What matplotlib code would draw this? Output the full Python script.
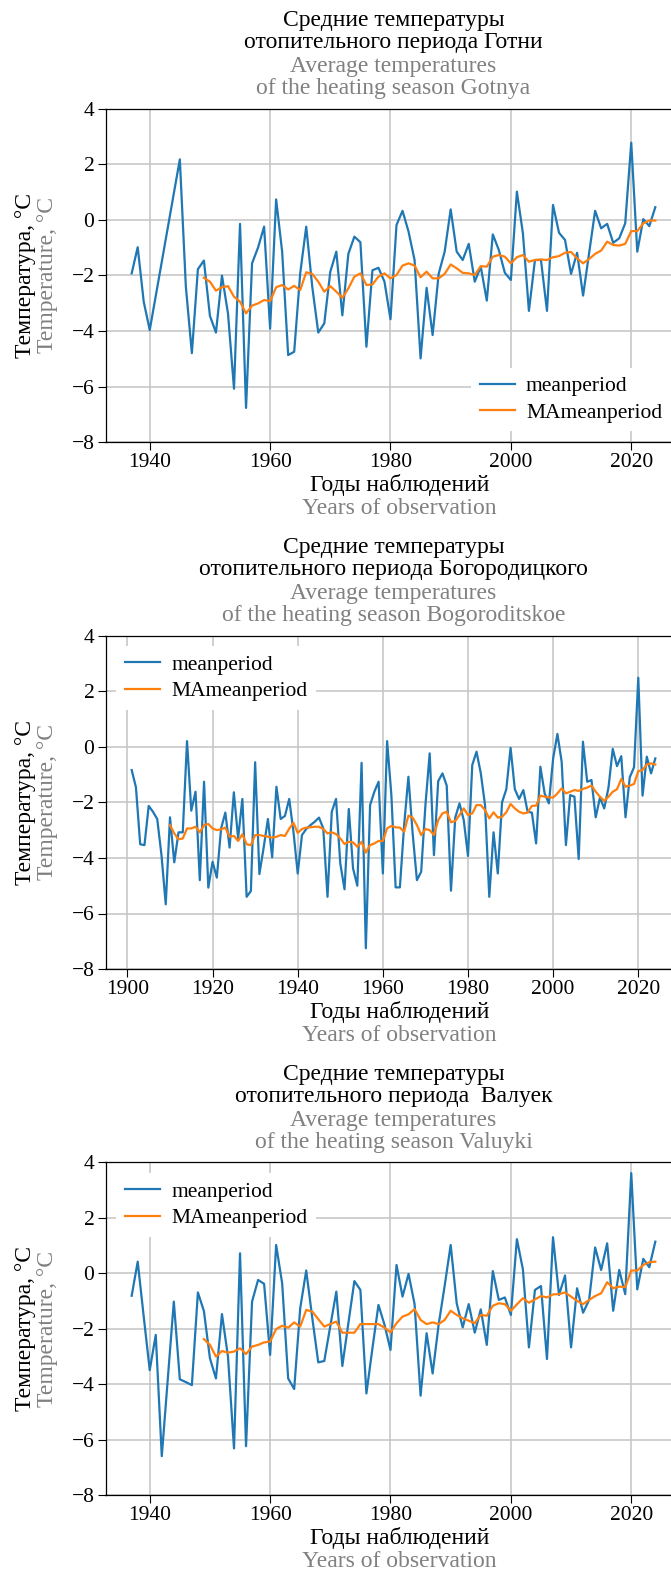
import matplotlib
matplotlib.use("Agg")
import matplotlib.pyplot as plt

plt.rcParams['font.family'] = ['Liberation Serif', 'DejaVu Serif']
plt.rcParams['font.size'] = 15.5

# --- Готня / Gotnya ---
gotnya_years = [1937, 1938, 1939, 1940] + list(range(1945, 2025))
gotnya_mean = [
    -1.93, -0.99, -2.95, -3.97,
    2.17, -2.41, -4.80, -1.78, -1.47, -3.46, -4.06, -2.01, -3.37, -6.08,
    -0.15, -6.77, -1.57, -1.00, -0.25, -3.92, 0.73, -1.15, -4.87, -4.75,
    -1.93, -0.25, -2.41, -4.06, -3.73, -1.87, -1.15, -3.44, -1.23, -0.61,
    -0.81, -4.57, -1.82, -1.73, -2.23, -3.58, -0.19, 0.32, -0.43, -1.45,
    -4.99, -2.45, -4.15, -1.95, -1.15, 0.37, -1.15, -1.45, -0.87, -2.23,
    -1.69, -2.91, -0.53, -1.09, -1.91, -2.17, 1.01, -0.49, -3.28, -1.45,
    -1.45, -3.28, 0.53, -0.47, -0.73, -1.95, -1.19, -2.73, -1.20, 0.32,
    -0.31, -0.15, -0.83, -0.67, -0.13, 2.77, -1.15, 0.02, -0.23, 0.45,
]
gotnya_ma_years = list(range(1949, 2025))
gotnya_ma = [
    -2.09, -2.23, -2.55, -2.43, -2.39, -2.77, -2.95, -3.37, -3.09, -3.01,
    -2.89, -2.93, -2.43, -2.35, -2.51, -2.38, -2.53, -1.89, -1.95, -2.23,
    -2.59, -2.39, -2.59, -2.81, -2.47, -2.05, -1.93, -2.35, -2.33, -2.05,
    -1.93, -2.11, -1.99, -1.65, -1.57, -1.65, -2.07, -1.87, -2.11, -2.11,
    -1.95, -1.61, -1.75, -1.91, -1.93, -1.99, -1.67, -1.69, -1.33, -1.27,
    -1.33, -1.57, -1.35, -1.27, -1.51, -1.45, -1.43, -1.45, -1.35, -1.31,
    -1.19, -1.16, -1.39, -1.57, -1.41, -1.23, -1.11, -0.79, -0.91, -0.93,
    -0.87, -0.41, -0.41, -0.13, -0.03, -0.03,
]

# --- Богородицкое / Bogoroditskoe ---
bogor_years = list(range(1901, 2025))
bogor_mean = [
    -0.84, -1.46, -3.51, -3.54, -2.13, -2.34, -2.60, -3.90, -5.67, -2.54,
    -4.16, -3.08, -3.08, 0.20, -2.30, -1.62, -4.80, -1.26, -5.07, -4.14,
    -4.71, -2.94, -2.37, -3.63, -1.64, -3.30, -1.88, -5.40, -5.19, -0.56,
    -4.58, -3.63, -2.60, -3.98, -1.44, -2.60, -2.49, -1.88, -3.06, -4.56,
    -3.18, -2.96, -2.82, -2.70, -2.55, -2.94, -5.40, -2.34, -1.88, -4.20,
    -5.13, -2.24, -4.38, -5.00, -0.58, -7.25, -2.10, -1.62, -1.26, -4.56,
    0.20, -1.74, -5.06, -5.06, -2.82, -1.08, -3.12, -4.80, -4.50, -2.10,
    -0.24, -3.90, -1.24, -0.96, -1.40, -5.18, -2.55, -2.04, -2.64, -3.93,
    -0.66, -0.18, -0.95, -2.10, -5.40, -3.08, -4.56, -2.00, -1.53, -0.04,
    -1.53, -1.88, -1.56, -2.34, -2.37, -3.48, -0.72, -1.68, -2.04, -0.42,
    0.46, -0.54, -3.54, -1.74, -1.80, -4.04, 0.18, -1.26, -1.20, -2.54,
    -1.83, -2.22, -1.47, -0.08, -0.70, -0.34, -2.54, -1.10, -0.74, 2.48,
    -1.76, -0.36, -0.96, -0.42,
]
bogor_ma_years = list(range(1910, 2025))
bogor_ma = [
    -2.82, -3.12, -3.33, -3.30, -2.94, -2.94, -2.88, -3.08, -2.82, -2.78,
    -2.94, -3.00, -2.97, -2.91, -3.24, -3.21, -3.39, -3.15, -3.51, -3.54,
    -3.18, -3.18, -3.21, -3.24, -3.27, -3.24, -3.18, -3.21, -2.95, -2.74,
    -3.10, -2.96, -2.91, -2.90, -2.88, -2.88, -2.96, -3.12, -3.08, -3.14,
    -3.30, -3.50, -3.42, -3.44, -3.60, -3.42, -3.81, -3.54, -3.48, -3.39,
    -3.39, -2.94, -2.85, -2.90, -2.91, -3.06, -2.48, -2.55, -2.82, -3.18,
    -2.96, -3.00, -3.18, -2.64, -2.40, -2.34, -2.72, -2.67, -2.46, -2.22,
    -2.46, -2.40, -2.10, -2.10, -2.28, -2.58, -2.36, -2.55, -2.52, -2.36,
    -2.06, -2.22, -2.34, -2.40, -2.37, -2.13, -2.12, -1.76, -1.80, -1.82,
    -1.83, -1.68, -1.50, -1.68, -1.62, -1.56, -1.59, -1.52, -1.47, -1.40,
    -1.62, -1.80, -1.95, -1.80, -1.62, -1.53, -1.16, -1.44, -1.40, -1.34,
    -0.88, -0.84, -0.64, -0.60, -0.64,
]

# --- Валуйки / Valuyki ---
valuyki_years = [1937, 1938, 1939, 1940, 1941, 1942] + list(range(1944, 2025))
valuyki_mean = [
    -0.81, 0.42, -1.56, -3.49, -2.22, -6.59,
    -1.02, -3.82, -3.92, -4.03, -0.69, -1.36, -3.06, -3.79, -1.47, -3.00,
    -6.31, 0.72, -6.23, -1.02, -0.24, -0.38, -2.94, 1.02, -0.36, -3.79,
    -4.17, -1.26, 0.10, -1.60, -3.21, -3.16, -1.90, -0.66, -3.34, -1.80,
    -0.28, -0.60, -4.33, -2.70, -1.14, -1.85, -2.76, 0.30, -0.84, -0.02,
    -1.11, -4.41, -2.16, -3.61, -1.85, -0.45, 1.02, -1.08, -1.95, -1.11,
    -2.14, -1.30, -2.58, 0.08, -0.96, -0.87, -1.50, 1.23, 0.14, -2.67,
    -0.60, -0.46, -3.09, 1.30, -0.78, -0.08, -2.67, -0.54, -1.42, -0.96,
    0.93, 0.12, 1.08, -1.35, 0.12, -0.75, 3.61, -0.58, 0.52, 0.22, 1.14,
]
valuyki_ma_years = list(range(1949, 2025))
valuyki_ma = [
    -2.37, -2.58, -3.00, -2.80, -2.86, -2.82, -2.70, -2.91, -2.64, -2.58,
    -2.49, -2.46, -2.01, -1.89, -1.96, -1.77, -1.92, -1.32, -1.38, -1.65,
    -1.92, -1.83, -1.74, -2.14, -2.14, -2.14, -1.83, -1.83, -1.83, -1.83,
    -1.96, -2.13, -1.80, -1.56, -1.48, -1.29, -1.68, -1.83, -1.77, -1.83,
    -1.68, -1.35, -1.50, -1.62, -1.71, -1.80, -1.50, -1.53, -1.17, -1.08,
    -1.11, -1.35, -1.12, -0.90, -1.06, -0.94, -0.82, -0.87, -0.76, -0.75,
    -0.69, -0.84, -0.99, -1.11, -0.96, -0.82, -0.72, -0.32, -0.54, -0.48,
    -0.50, 0.10, 0.10, 0.30, 0.40, 0.42,
]

W, H = 671, 1574
GRAY = '#808080'
LABEL_SIZE = 17


def make_panel(fig, top, bottom, years, mean, ma_years, ma,
               title_ru, title_en, legend_loc):
    left, right = 105.5, 681.5
    ax = fig.add_axes([left / W, 1 - bottom / H, (right - left) / W, (bottom - top) / H])
    ax.plot(years, mean, color='#1f77b4', lw=1.6, label='meanperiod')
    ax.plot(ma_years, ma, color='#ff7f0e', lw=1.6, label='MAmeanperiod')
    ax.set_ylim(-8, 4)
    ax.set_yticks([-8, -6, -4, -2, 0, 2, 4])
    ax.grid(True, color='#c4c4c4', lw=1.1)
    ax.set_axisbelow(True)
    ax.tick_params(direction='out', length=6, width=0.8, pad=2, labelsize=15.5)
    for s in ax.spines.values():
        s.set_linewidth(0.9)

    kw = dict(xycoords='axes fraction', textcoords='offset pixels',
              ha='center', va='center', fontsize=LABEL_SIZE, linespacing=1.07)
    ax.annotate(title_ru, xy=(0.5, 1), xytext=(0, 77), color='black', **kw)
    ax.annotate(title_en, xy=(0.5, 1), xytext=(0, 31), color=GRAY, **kw)
    ax.annotate('Годы наблюдений', xy=(0.51, 0), xytext=(0, -43), color='black', **kw)
    ax.annotate('Years of observation', xy=(0.51, 0), xytext=(0, -66), color=GRAY, **kw)
    ax.annotate('Температура, °C', xy=(0, 0.5), xytext=(26 - left, 0),
                rotation=90, color='black', **kw)
    ax.annotate('Temperature, °C', xy=(0, 0.5), xytext=(48 - left, 0),
                rotation=90, color=GRAY, **kw)

    leg = ax.legend(loc=legend_loc, fontsize=15.5, frameon=True, fancybox=False,
                    framealpha=1.0, handlelength=1.65, handletextpad=0.5,
                    labelspacing=0.3)
    leg.get_frame().set_edgecolor('white')
    leg.get_frame().set_linewidth(0)
    return ax


fig = plt.figure(figsize=(W / 100, H / 100), dpi=100)

make_panel(fig, 108.5, 442.1, gotnya_years, gotnya_mean, gotnya_ma_years, gotnya_ma,
           'Средние температуры\nотопительного периода Готни',
           'Average temperatures\nof the heating season Gotnya', 'lower right')
make_panel(fig, 635.5, 969.1, bogor_years, bogor_mean, bogor_ma_years, bogor_ma,
           'Средние температуры\nотопительного периода Богородицкого',
           'Average temperatures\nof the heating season Bogoroditskoe', 'upper left')
make_panel(fig, 1162.3, 1495.3, valuyki_years, valuyki_mean, valuyki_ma_years, valuyki_ma,
           'Средние температуры\nотопительного периода  Валуек',
           'Average temperatures\nof the heating season Valuyki', 'upper left')

fig.savefig('out.png', dpi=100)
